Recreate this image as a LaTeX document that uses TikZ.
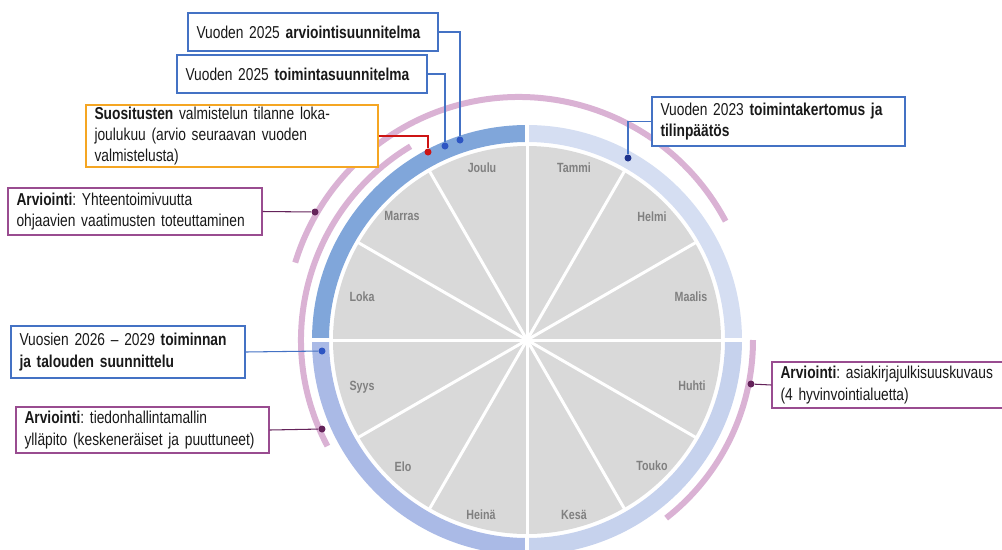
\documentclass[tikz,border=0pt]{standalone}
\usepackage{fontspec}
\setmainfont{Liberation Sans}[FakeStretch=0.8]
\frenchspacing

\definecolor{ringTL}{RGB}{128,166,218}
\definecolor{ringTR}{RGB}{213,222,242}
\definecolor{ringBR}{RGB}{198,210,237}
\definecolor{ringBL}{RGB}{170,186,230}
\definecolor{discgrey}{RGB}{217,217,217}
\definecolor{monthgrey}{RGB}{128,128,128}
\definecolor{arcpink}{RGB}{218,178,212}
\definecolor{boxblue}{RGB}{68,114,196}
\definecolor{dotblue}{RGB}{45,85,195}
\definecolor{dotnavy}{RGB}{30,50,140}
\definecolor{boxorange}{RGB}{245,166,35}
\definecolor{linkred}{RGB}{205,20,20}
\definecolor{boxpurple}{RGB}{153,76,144}
\definecolor{dotpurple}{RGB}{100,35,90}

\begin{document}
\begin{tikzpicture}[x=0.02cm, y=-0.02cm,
  callout/.style={draw, line width=0.7pt, fill=white, text=black!90, align=left,
    inner xsep=0.17cm, inner ysep=0pt, font=\fontsize{9.8}{12}\selectfont,
    execute at begin node={\hyphenpenalty=10000\exhyphenpenalty=10000}},
  month/.style={text=monthgrey, font=\fontsize{7.6}{9}\selectfont\bfseries},
  pinkarc/.style={draw=arcpink, line width=0.12cm},
  dot/.style={circle, fill, inner sep=0pt, minimum size=0.14cm},
  link/.style={line width=0.6pt}]

\useasboundingbox (0,0) rectangle (1002,549);
\coordinate (ctr) at (527,340);

% Wheel
\begin{scope}[shift={(ctr)}, y=0.02cm]
  % quarter ring
  \foreach \a/\b/\col in {0/90/ringTR, 90/180/ringTL, 180/270/ringBL, 270/360/ringBR}
    \fill[\col] (\a:198) arc[start angle=\a, end angle=\b, radius=198]
      -- (\b:215) arc[start angle=\b, end angle=\a, radius=215] -- cycle;
  \foreach \a in {0,90,180,270}
    \draw[white, line width=0.09cm] (\a:196) -- (\a:217);
  % months disc
  \fill[discgrey] (0,0) circle[radius=194];
  \foreach \a in {0,30,...,330}
    \draw[white, line width=0.06cm] (0,0) -- (\a:195);
  % evaluation arcs
  \draw[pinkarc] (121:226) arc[start angle=121, end angle=208, radius=226];
  \draw[pinkarc] (0:226) arc[start angle=0, end angle=-52, radius=226];
  \draw[pinkarc] (-8,9) ++(28:234) arc[start angle=28, end angle=163, radius=234];
\end{scope}

% Months
\node[month] (tammi)  at (574,168) {Tammi};
\node[month] (helmi)  at (652,217) {Helmi};
\node[month] (maalis) at (691,297) {Maalis};
\node[month] (huhti)  at (692,386) {Huhti};
\node[month] (touko)  at (652,466) {Touko};
\node[month] (kesa)   at (574,515) {Kesä};
\node[month] (heina)  at (481,515) {Heinä};
\node[month] (elo)    at (403,467) {Elo};
\node[month] (syys)   at (362,387) {Syys};
\node[month] (loka)   at (362,297) {Loka};
\node[month] (marras) at (402,216) {Marras};
\node[month] (joulu)  at (482,168) {Joulu};

% Markers
\node[dot, dotblue]   (d1) at (460,140) {};
\node[dot, dotblue]   (d2) at (445,146) {};
\node[dot, linkred]   (d3) at (428,152) {};
\node[dot, dotpurple] (d4) at (315,212) {};
\node[dot, dotnavy]   (d5) at (628,158) {};
\node[dot, dotblue]   (d6) at (322,351) {};
\node[dot, dotpurple] (d7) at (322,429) {};
\node[dot, dotpurple] (d8) at (751,384) {};

% Callouts
\node[callout, draw=boxblue, text width=4.66cm, minimum height=0.76cm] (arvsuun) at (313,32)
  {Vuoden 2025 \textbf{arviointisuunnitelma}};
\node[callout, draw=boxblue, text width=4.66cm, minimum height=0.76cm] (toimsuun) at (302,74)
  {Vuoden 2025 \textbf{toimintasuunnitelma}};
\node[callout, draw=boxorange, text width=5.5cm, minimum height=1.24cm] (suos) at (232,136)
  {\textbf{Suositusten} valmistelun tilanne loka-\\joulukuu (arvio seuraavan vuoden\\valmistelusta)};
\node[callout, draw=boxpurple, text width=4.74cm, minimum height=0.94cm] (arv1) at (135,211.5)
  {\textbf{Arviointi}: Yhteentoimivuutta\\ohjaavien vaatimusten toteuttaminen};
\node[callout, draw=boxblue, text width=4.72cm, minimum height=0.98cm] (tk) at (778.5,121.5)
  {Vuoden 2023 \textbf{toimintakertomus ja}\\\textbf{tilinpäätös}};
\node[callout, draw=boxblue, text width=4.34cm, minimum height=1.04cm] (vuosien) at (128,352)
  {Vuosien 2026 -- 2029 \textbf{toiminnan}\\\textbf{ja talouden suunnittelu}};
\node[callout, draw=boxpurple, text width=4.72cm, minimum height=0.92cm] (arv2) at (142.5,430)
  {\textbf{Arviointi}: tiedonhallintamallin\\ylläpito (keskeneräiset ja puuttuneet)};
\node[callout, draw=boxpurple, text width=4.42cm, minimum height=0.92cm] (arv3) at (891,385)
  {\textbf{Arviointi}: asiakirjajulkisuuskuvaus\\(4 hyvinvointialuetta)};

% Connectors
\draw[link, boxblue] (arvsuun.east) -| (d1);
\draw[link, boxblue] (toimsuun.east) -| (d2);
\draw[link, linkred] (suos.east) -| (d3);
\draw[link, dotpurple] (arv1.east) -- (d4);
\draw[link, boxblue] (tk.west) -| (d5);
\draw[link, boxblue] (vuosien.east) -- (d6);
\draw[link, dotpurple] (arv2.east) -- (d7);
\draw[link, dotpurple] (arv3.west) -- (d8);

\end{tikzpicture}
\end{document}
